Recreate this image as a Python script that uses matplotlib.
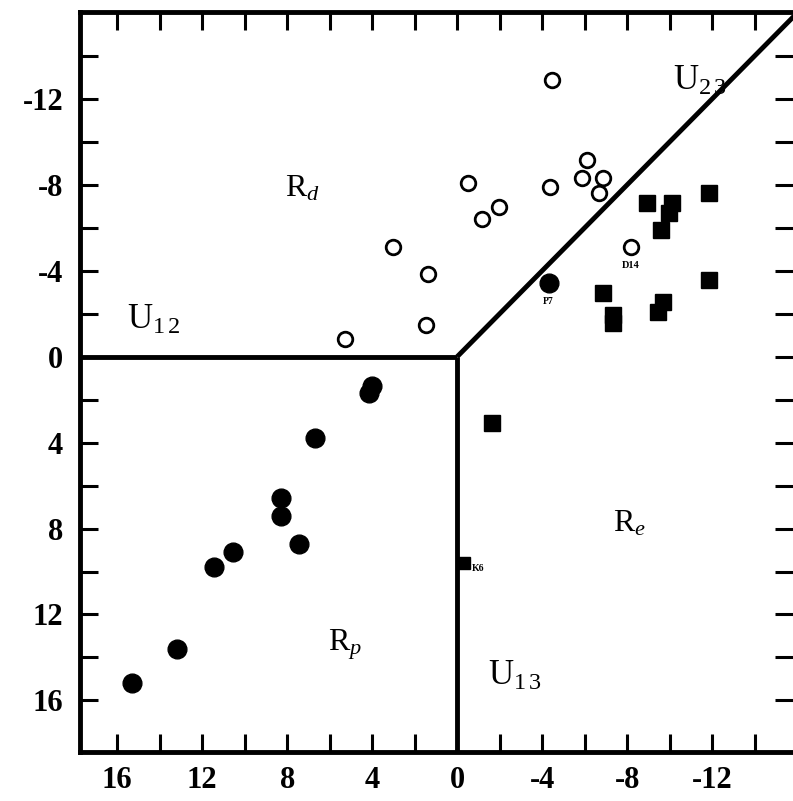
import matplotlib
matplotlib.use("Agg")
import matplotlib.pyplot as plt
from matplotlib.ticker import FixedLocator

plt.rcParams['font.family'] = ['Liberation Serif', 'DejaVu Serif']
plt.rcParams['mathtext.fontset'] = 'custom'
plt.rcParams['mathtext.rm'] = 'Liberation Serif'
plt.rcParams['mathtext.it'] = 'Liberation Serif:italic'
plt.rcParams['axes.unicode_minus'] = False

# open circles (region Rd, plus D14)
open_x = [-4.46, -6.1, -5.87, -6.85, -6.67, -0.5, -4.37, -1.97, -1.17, 3.0, 1.36, 1.46, 5.3, -8.17]
open_y = [-12.9, -9.16, -8.33, -8.33, -7.63, -8.08, -7.9, -6.98, -6.42, -5.1, -3.86, -1.49, -0.84, -5.12]

# filled circles (region Rp, plus P7)
dot_x = [-4.32, 4.0, 4.13, 6.7, 8.3, 8.3, 7.45, 10.55, 11.45, 13.2, 15.3]
dot_y = [-3.44, 1.35, 1.67, 3.77, 6.6, 7.4, 8.74, 9.07, 9.77, 13.6, 15.2]

# filled squares (region Re, plus K6)
sq_x = [-11.83, -8.92, -10.1, -9.95, -9.58, -11.83, -6.85, -9.67, -9.44, -7.32, -7.32, -1.64, -0.3]
sq_y = [-7.63, -7.16, -7.16, -6.7, -5.9, -3.58, -2.98, -2.56, -2.1, -1.95, -1.58, 3.07, 9.6]

# boundary lines U12, U13, U23 meeting at the origin
u12_x, u12_y = [18, 0], [0, 0]
u13_x, u13_y = [0, 0], [0, 19]
u23_x, u23_y = [0, -16.2], [0, -16.2]

x_major = [16, 12, 8, 4, 0, -4, -8, -12]
x_minor = [14, 10, 6, 2, -2, -6, -10, -14]
y_major = [-12, -8, -4, 0, 4, 8, 12, 16]
y_minor = [-14, -10, -6, -2, 2, 6, 10, 14]

fig = plt.figure(figsize=(7.93, 8.01), dpi=100)
ax = fig.add_axes([0.1009, 0.0612, 0.899, 0.924])

lw = 3.5
ax.plot(u12_x, u12_y, color='black', lw=lw, solid_capstyle='butt')
ax.plot(u13_x, u13_y, color='black', lw=lw, solid_capstyle='butt')
ax.plot(u23_x, u23_y, color='black', lw=lw, solid_capstyle='butt')

ax.plot(open_x, open_y, 'o', ms=10.5, mfc='white', mec='black', mew=2.0, zorder=3)
ax.plot(dot_x, dot_y, 'o', ms=13.5, color='black', zorder=3)
ax.plot(sq_x[:-1], sq_y[:-1], 's', ms=11.5, color='black', zorder=3)
ax.plot(sq_x[-1:], sq_y[-1:], 's', ms=8, color='black', zorder=3)

# small point labels
ax.text(-4.3, -2.55, 'P7', fontsize=7, fontweight='bold', ha='center', va='center')
ax.text(-8.17, -4.25, 'D14', fontsize=7.5, fontweight='bold', ha='center', va='center')
ax.text(-1.0, 9.85, 'K6', fontsize=7, fontweight='bold', ha='center', va='center')

# region and boundary labels
ax.text(7.3, -7.8, r'R$_{\mathit{d}}$', fontsize=23, ha='center', va='center')
ax.text(-8.1, 7.8, r'R$_{\mathit{e}}$', fontsize=23, ha='center', va='center')
ax.text(5.3, 13.4, r'R$_{\mathit{p}}$', fontsize=23, ha='center', va='center')
ax.text(14.3, -1.7, r'U$_{1\,2}$', fontsize=25, ha='center', va='center')
ax.text(-11.4, -12.8, r'U$_{2\,3}$', fontsize=25, ha='center', va='center')
ax.text(-2.7, 14.9, r'U$_{1\,3}$', fontsize=25, ha='center', va='center')

ax.set_xlim(17.75, -15.8)
ax.set_ylim(18.4, -16.05)

ax.xaxis.set_major_locator(FixedLocator(x_major))
ax.xaxis.set_minor_locator(FixedLocator(x_minor))
ax.yaxis.set_major_locator(FixedLocator(y_major))
ax.yaxis.set_minor_locator(FixedLocator(y_minor))
ax.tick_params(which='both', direction='in', length=13, width=2.2,
               top=True, right=True, bottom=True, left=True)
ax.tick_params(axis='x', which='major', labelsize=22, pad=10)
ax.tick_params(axis='y', which='major', labelsize=22, pad=12)
for lab in ax.get_xticklabels() + ax.get_yticklabels():
    lab.set_fontweight('bold')

for side in ('left', 'bottom', 'top'):
    ax.spines[side].set_linewidth(3.5)
ax.spines['right'].set_visible(False)

fig.savefig('out.png', dpi=100)
